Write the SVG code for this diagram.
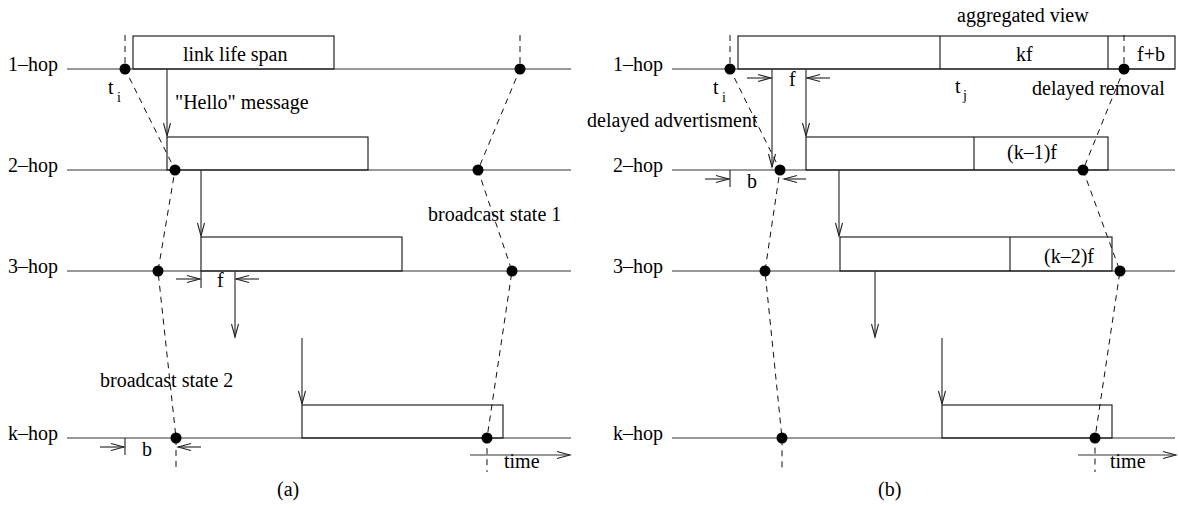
<svg xmlns="http://www.w3.org/2000/svg" width="1179" height="508" viewBox="0 0 1179 508">
<style>
.t{font-family:'Liberation Serif','DejaVu Serif','Times New Roman',Times,serif;font-size:20px;fill:#000}
.s{font-size:14px}
.ln{stroke:#333;stroke-width:1.2;fill:none}
.bx{stroke:#111;stroke-width:1.1;fill:none}
.dash{stroke:#111;stroke-width:1;stroke-dasharray:6,5;fill:none}
.ar{stroke:#333;stroke-width:1.2;fill:none;marker-end:url(#h)}
.dot{fill:#000}
</style>
<defs>
<marker id="h" markerUnits="userSpaceOnUse" markerWidth="16" markerHeight="10" refX="14" refY="5" orient="auto" viewBox="0 0 16 10">
<path d="M1,1.5 L14,5 L1,8.5" fill="none" stroke="#222" stroke-width="1.1"/>
</marker>
</defs>
<rect width="1179" height="508" fill="#fff"/>

<g font-family="Liberation Serif, serif">
<!-- panel (a): per-hop timelines -->
<g id="a-hop1">
<text class="t" x="8" y="71">1–hop</text>
<line class="ln" x1="67" y1="69" x2="571" y2="69"/>
<rect class="bx" x="133" y="36" width="201" height="33"/>
<text class="t" x="183" y="61">link life span</text>
<text class="t" x="108" y="94">t</text><text class="t s" x="117" y="102">i</text>
</g>
<g id="a-hop2">
<text class="t" x="8" y="172">2–hop</text>
<line class="ln" x1="67" y1="170" x2="571" y2="170"/>
<rect class="bx" x="167" y="137" width="201" height="33"/>
</g>
<g id="a-hop3">
<text class="t" x="8" y="273">3–hop</text>
<line class="ln" x1="67" y1="271" x2="571" y2="271"/>
<rect class="bx" x="201" y="237" width="201" height="34"/>
<line class="ln" x1="201" y1="271" x2="201" y2="288"/>
<text class="t" x="217" y="287">f</text>
</g>
<g id="a-hopk">
<text class="t" x="8" y="440">k–hop</text>
<line class="ln" x1="67" y1="438" x2="571" y2="438"/>
<rect class="bx" x="302" y="405" width="201" height="33"/>
<line class="ln" x1="125" y1="438" x2="125" y2="455"/>
<text class="t" x="142" y="456">b</text>
</g>
<g id="a-labels">
<text class="t" x="175" y="109">"Hello" message</text>
<text class="t" x="428" y="221">broadcast state 1</text>
<text class="t" x="100" y="387">broadcast state 2</text>
<text class="t" x="504" y="468">time</text>
<text class="t" x="277" y="496">(a)</text>
</g>

<!-- panel (b): per-hop timelines -->
<g id="b-hop1">
<text class="t" x="613" y="71">1–hop</text>
<line class="ln" x1="672" y1="69" x2="1175" y2="69"/>
<rect class="bx" x="738" y="36" width="437" height="33"/>
<line class="bx" x1="940" y1="36" x2="940" y2="69"/>
<line class="bx" x1="1108" y1="36" x2="1108" y2="69"/>
<text class="t" x="1016" y="61">kf</text>
<text class="t" x="1137" y="61">f+b</text>
<text class="t" x="713" y="94">t</text><text class="t s" x="722" y="102">i</text>
<text class="t" x="789" y="86">f</text>
<text class="t" x="955" y="93">t</text><text class="t s" x="963" y="100">j</text>
</g>
<g id="b-hop2">
<text class="t" x="613" y="172">2–hop</text>
<line class="ln" x1="672" y1="170" x2="1175" y2="170"/>
<rect class="bx" x="806" y="137" width="302" height="33"/>
<line class="bx" x1="974" y1="137" x2="974" y2="170"/>
<text class="t" x="1007" y="159">(k–1)f</text>
<line class="ln" x1="730" y1="170" x2="730" y2="187"/>
<text class="t" x="747" y="188">b</text>
</g>
<g id="b-hop3">
<text class="t" x="613" y="273">3–hop</text>
<line class="ln" x1="672" y1="271" x2="1175" y2="271"/>
<rect class="bx" x="840" y="237" width="272" height="34"/>
<line class="bx" x1="1010" y1="237" x2="1010" y2="271"/>
<text class="t" x="1044" y="263">(k–2)f</text>
</g>
<g id="b-hopk">
<text class="t" x="613" y="440">k–hop</text>
<line class="ln" x1="672" y1="438" x2="1175" y2="438"/>
<rect class="bx" x="942" y="405" width="170" height="33"/>
</g>
<g id="b-labels">
<text class="t" x="957" y="22">aggregated view</text>
<text class="t" x="587" y="127">delayed advertisment</text>
<text class="t" x="1032" y="95">delayed removal</text>
<text class="t" x="1110" y="468">time</text>
<text class="t" x="878" y="496">(b)</text>
</g>
</g>

<!-- connectors: message arrows, interval markers, state boundaries -->
<g id="connectors">
<!-- panel (a) message forwarding -->
<line class="ar" x1="167" y1="69" x2="167" y2="136"/>
<line class="ar" x1="201" y1="170" x2="201" y2="236"/>
<line class="ar" x1="235" y1="271" x2="235" y2="337"/>
<line class="ar" x1="302" y1="338" x2="302" y2="404"/>
<!-- panel (a) interval markers -->
<line class="ar" x1="176" y1="279" x2="200" y2="279"/>
<line class="ar" x1="259" y1="279" x2="236" y2="279"/>
<line class="ar" x1="100" y1="447" x2="124" y2="447"/>
<line class="ar" x1="201" y1="447" x2="178" y2="447"/>
<line class="ar" x1="470" y1="455" x2="570" y2="455"/>
<!-- panel (a) state boundaries -->
<path class="dash" d="M125,35 V69 L175,170 L158,271 L176,438 V472"/>
<path class="dash" d="M520,35 V69 L478,170 L512,271 L487,438 V472"/>

<!-- panel (b) message forwarding -->
<line class="ar" x1="772" y1="69" x2="772" y2="167"/>
<line class="ar" x1="806" y1="69" x2="806" y2="136"/>
<line class="ar" x1="839" y1="170" x2="839" y2="236"/>
<line class="ar" x1="875" y1="271" x2="875" y2="337"/>
<line class="ar" x1="942" y1="338" x2="942" y2="404"/>
<!-- panel (b) interval markers -->
<line class="ar" x1="747" y1="78" x2="771" y2="78"/>
<line class="ar" x1="830" y1="78" x2="807" y2="78"/>
<line class="ar" x1="705" y1="179" x2="729" y2="179"/>
<line class="ar" x1="806" y1="179" x2="784" y2="179"/>
<line class="ar" x1="1078" y1="455" x2="1176" y2="455"/>
<!-- panel (b) state boundaries -->
<path class="dash" d="M730,35 V69 L780,170 L765,271 L782,438 V472"/>
<path class="dash" d="M1124,35 V69 L1083,170 L1120,271 L1095,438 V472"/>
</g>

<g id="dots">
<circle class="dot" cx="125" cy="69" r="5.5"/>
<circle class="dot" cx="175" cy="170" r="5.5"/>
<circle class="dot" cx="158" cy="271" r="5.5"/>
<circle class="dot" cx="176" cy="438" r="5.5"/>
<circle class="dot" cx="520" cy="69" r="5.5"/>
<circle class="dot" cx="478" cy="170" r="5.5"/>
<circle class="dot" cx="512" cy="271" r="5.5"/>
<circle class="dot" cx="487" cy="438" r="5.5"/>
<circle class="dot" cx="730" cy="69" r="5.5"/>
<circle class="dot" cx="780" cy="170" r="5.5"/>
<circle class="dot" cx="765" cy="271" r="5.5"/>
<circle class="dot" cx="782" cy="438" r="5.5"/>
<circle class="dot" cx="1124" cy="69" r="5.5"/>
<circle class="dot" cx="1083" cy="170" r="5.5"/>
<circle class="dot" cx="1120" cy="271" r="5.5"/>
<circle class="dot" cx="1095" cy="438" r="5.5"/>
</g>
</svg>
